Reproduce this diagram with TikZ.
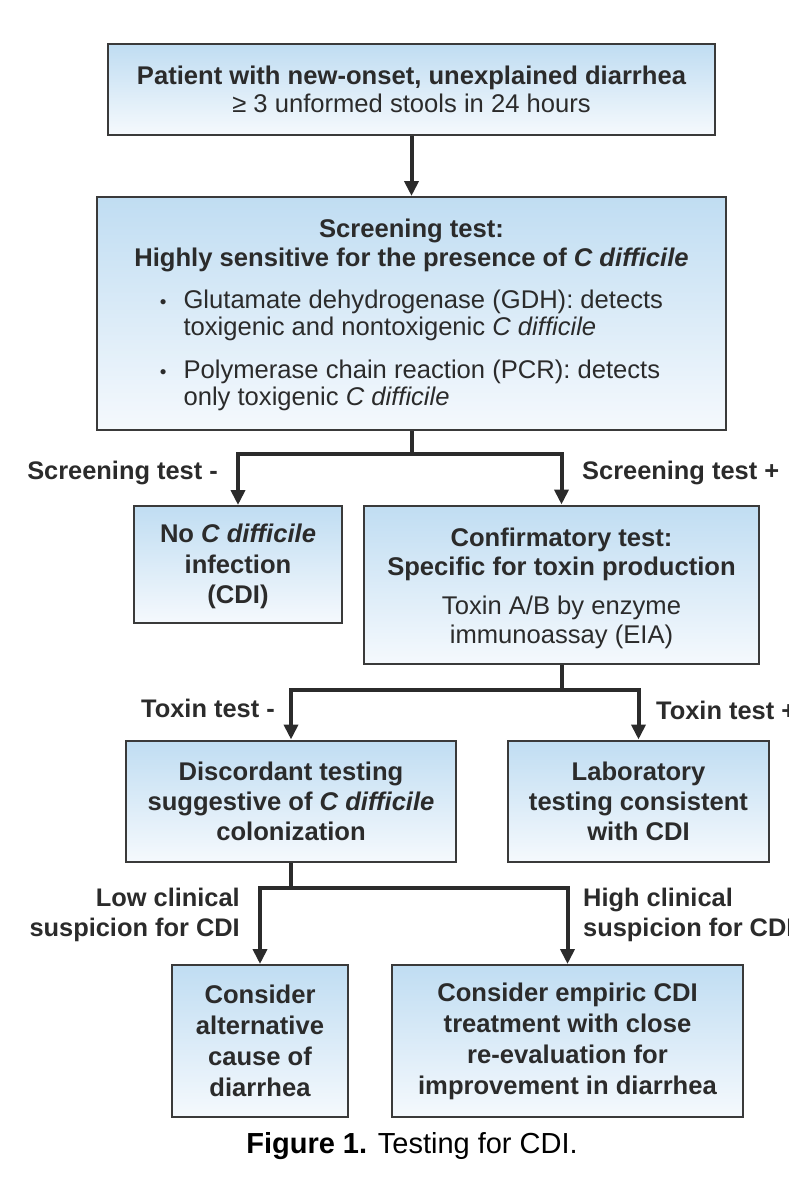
\documentclass[tikz,border=0pt]{standalone}
\usepackage{fontspec}
\setmainfont{Liberation Sans}
\usetikzlibrary{arrows.meta}

\definecolor{boxtop}{HTML}{C0DDF2}
\definecolor{boxbot}{HTML}{F5F9FD}
\definecolor{ink}{HTML}{2B2B2B}
\definecolor{edge}{HTML}{3A3A3A}

\newcommand{\dotitem}{{\fontsize{19}{19}\selectfont •}}

\begin{document}
\begin{tikzpicture}[x=1pt, y=-1pt]
        \tikzstyle{box}=[draw=edge, line width=2pt, top color=boxtop, bottom color=boxbot, text=ink, align=center, inner sep=0pt, font=\fontsize{25.6}{28.5}\selectfont]
        \tikzstyle{lbl}=[text=ink, inner sep=0pt, font=\fontsize{25.4}{30}\selectfont\bfseries]
        \tikzstyle{wire}=[draw=ink, line width=4pt]
        \tikzstyle{arr}=[wire, -{Triangle[length=15pt, width=14pt]}]

        \useasboundingbox (0,0) rectangle (788,1199);

        % boxes
        \node (patient) [box, minimum width=607pt, minimum height=90pt] at (411.5,89.5)
            {\bfseries Patient with new-onset, unexplained diarrhea\\ \mdseries ≥ 3 unformed stools in 24 hours};
        \node (screen) [box, minimum width=629pt, minimum height=233pt, font=\fontsize{25.6}{29.5}\selectfont] at (411.5,313.5)
            {\rule{0pt}{24pt}\bfseries Screening test:\\ \bfseries Highly sensitive for the presence of \textit{C difficile}\\[16pt]
             \mdseries\def\arraystretch{0.92}\begin{tabular}{@{}l@{\hspace{17pt}}l@{}}
             \dotitem & Glutamate dehydrogenase (GDH): detects\\
                 & toxigenic and nontoxigenic \textit{C difficile}\\[16pt]
             \dotitem & Polymerase chain reaction (PCR): detects\\
                 & only toxigenic \textit{C difficile}
             \end{tabular}};
        \node (nocdi) [box, minimum width=208pt, minimum height=117pt, font=\fontsize{25.6}{30.5}\selectfont\bfseries] at (238,564.5)
            {\rule{0pt}{23pt}No \textit{C difficile}\\ infection\\ (CDI)};
        \node (confirm) [box, minimum width=395pt, minimum height=158pt, font=\fontsize{25.6}{29}\selectfont] at (561.5,584.5)
            {\rule{0pt}{27pt}\bfseries Confirmatory test:\\ \bfseries Specific for toxin production\\[10pt] \mdseries Toxin A/B by enzyme\\ \mdseries immunoassay (EIA)};
        \node (discord) [box, minimum width=330pt, minimum height=121pt, font=\fontsize{25.6}{30}\selectfont\bfseries] at (291,801)
            {Discordant testing\\ suggestive of \textit{C difficile}\\ colonization};
        \node (lab) [box, minimum width=261pt, minimum height=121pt, font=\fontsize{25.6}{30}\selectfont\bfseries] at (638.5,801)
            {Laboratory\\ testing consistent\\ with CDI};
        \node (altcause) [box, minimum width=176pt, minimum height=152pt, font=\fontsize{25.6}{31}\selectfont\bfseries] at (260,1041)
            {Consider\\ alternative\\ cause of\\ diarrhea};
        \node (empiric) [box, minimum width=351pt, minimum height=152pt, font=\fontsize{25.6}{31}\selectfont\bfseries] at (567.5,1041)
            {Consider empiric CDI\\ treatment with close\\ re-evaluation for\\ improvement in diarrhea};

        % branch labels
        \node (screenneg) [lbl, anchor=east] at (218,473) {Screening test -};
        \node (screenpos) [lbl, anchor=west] at (582,473) {Screening test +};
        \node (toxinneg) [lbl, anchor=east] at (275,708) {Toxin test -};
        \node (toxinpos) [lbl, anchor=west] at (656,710) {Toxin test +};
        \node (lowsusp) [lbl, anchor=east, align=right] at (240,915) {Low clinical\\ suspicion for CDI};
        \node (highsusp) [lbl, anchor=west, align=left] at (583,915) {High clinical\\ suspicion for CDI};

        \node (caption) [inner sep=0pt, font=\fontsize{29}{33}\selectfont] at (412,1146) {\textbf{Figure 1.} Testing for CDI.};

        % connectors
        \coordinate (split1) at (411.5,454);
        \coordinate (split2) at (561.5,690);
        \coordinate (split3) at (291,888);

        \draw[arr] (patient) -- (screen);

        \draw[wire] (screen.south) -- (split1);
        \draw[arr] (split1) -| (nocdi.north);
        \draw[arr] (split1) -| (confirm.north);

        \draw[wire] (confirm.south) -- (split2);
        \draw[arr] (split2) -| (discord.north);
        \draw[arr] (split2) -| (lab.north);

        \draw[wire] (discord.south) -- (split3);
        \draw[arr] (split3) -| (altcause.north);
        \draw[arr] (split3) -| (empiric.north);

    \end{tikzpicture}
\end{document}
